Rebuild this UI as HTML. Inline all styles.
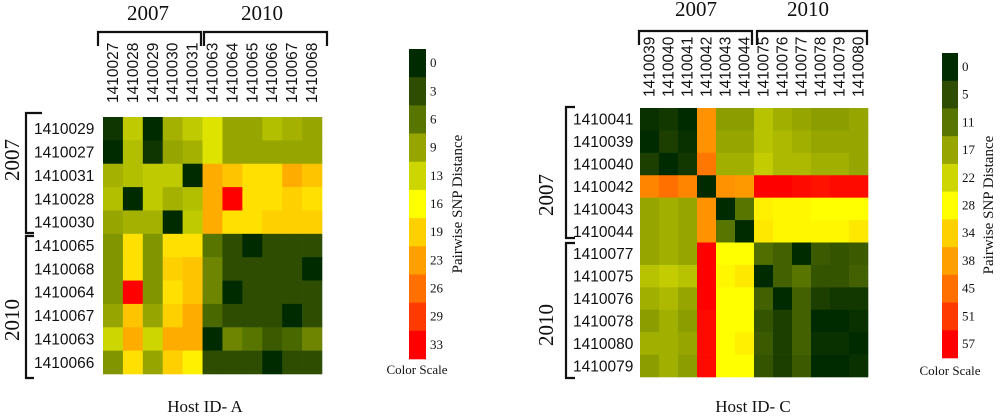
<!DOCTYPE html>
<html><head><meta charset="utf-8"><style>
body{margin:0;background:#fff}
svg{display:block}
.lab{font-family:"Liberation Sans",sans-serif;font-size:15.5px;fill:#111}
.yr{font-family:"Liberation Serif",serif;font-size:21px;fill:#111}
.tk{font-family:"Liberation Serif",serif;font-size:13px;fill:#111}
.cap{font-family:"Liberation Serif",serif;font-size:17px;fill:#111}
.br{fill:none;stroke:#111;stroke-width:2.2}
</style></head><body>
<svg id="s" width="1000" height="417" viewBox="0 0 1000 417"></svg>
<script>
const rowsA=["1410029","1410027","1410031","1410028","1410030","1410065","1410068","1410064","1410067","1410063","1410066"];
const colsA=["1410027","1410028","1410029","1410030","1410031","1410063","1410064","1410065","1410066","1410067","1410068"];
const valsA=[
[1,12,0,10,12,14,9,9,11,10,9],
[0,11,1,9,10,14,9,9,9,9,9],
[10,11,12,12,0,22,20,18,18,22,20],
[11,0,12,10,11,22,33,18,18,19,18],
[9,10,10,0,12,22,18,18,19,19,19],
[8,18,8,18,18,6,3,0,3,3,3],
[8,18,8,19,20,7,3,3,3,3,0],
[8,33,8,18,20,7,0,3,3,3,3],
[9,20,9,19,22,5,3,3,3,0,3],
[13,22,13,22,22,0,7,6,4,5,7],
[8,18,9,19,17,3,3,3,0,3,3]];
const ticksA=[0,3,6,9,13,16,19,23,26,29,33];
const rowsC=["1410041","1410039","1410040","1410042","1410043","1410044","1410077","1410075","1410076","1410078","1410080","1410079"];
const colsC=["1410039","1410040","1410041","1410042","1410043","1410044","1410075","1410076","1410077","1410078","1410079","1410080"];
const valsC=[
[1,2,0,40,16,16,20,18,17,16,16,17],
[0,3,1,40,17,17,20,19,18,17,17,17],
[3,0,2,44,18,18,21,19,19,18,18,17],
[42,45,42,0,40,39,57,57,56,55,56,56],
[17,18,17,40,0,11,30,29,29,28,28,28],
[17,18,17,40,11,0,31,29,29,29,29,31],
[17,18,17,57,28,28,10,8,0,7,6,7],
[20,21,20,57,29,31,0,8,11,6,6,8],
[18,19,17,57,28,28,8,0,8,3,2,2],
[16,18,16,56,28,28,6,3,8,0,0,1],
[18,18,17,56,28,30,7,3,8,1,1,0],
[16,18,16,56,28,28,6,3,7,0,0,1]];
const ticksC=[0,5,11,17,22,28,34,38,45,51,57];
const palette=["#002a00","#2e4d00","#587500","#96a500","#cdd600","#ffff00","#ffd000","#ffa000","#ff7000","#ff3a00","#ff0000"];

const S=document.getElementById('s'),NS="http://www.w3.org/2000/svg";
function mk(t,a,p){const e=document.createElementNS(NS,t);for(const k in a)e.setAttribute(k,a[k]);(p||S).appendChild(e);return e;}
function hex(h){return [1,3,5].map(i=>parseInt(h.substr(i,2),16));}
function colorOf(v,ticks){
  for(let i=0;i<ticks.length-1;i++){
    if(v<=ticks[i+1]){const t=(v-ticks[i])/(ticks[i+1]-ticks[i]);const a=hex(palette[i]),b=hex(palette[i+1]);
      return "rgb("+a.map((x,j)=>Math.round(x+(b[j]-x)*t)).join(",")+")";}
  }
  return palette[palette.length-1];
}
function panel(o){
  const cw=(o.x1-o.x0)/o.cols.length, rh=(o.y1-o.y0)/o.rows.length;
  o.vals.forEach((row,i)=>row.forEach((v,j)=>{
    const r=mk('rect',{x:o.x0+j*cw,y:o.y0+i*rh,width:cw+0.3,height:rh+0.3,fill:colorOf(v,o.ticks)});
    
    
  }));
  o.cols.forEach((c,j)=>{
    const x=o.x0+(j+0.5)*cw+5;
    const t=mk('text',{class:'lab',x:x,y:o.labBottom,transform:'rotate(-90 '+x+' '+o.labBottom+')'});t.textContent=c;
    
    
  });
  o.rows.forEach((c,i)=>{
    const t=mk('text',{class:'lab',x:o.rowX,y:o.y0+(i+0.5)*rh+5.5});t.textContent=c;
    
    
  });
  // scale bar
  const bh=(o.sb.y1-o.sb.y0)/palette.length;
  palette.forEach((p,k)=>{
    const r=mk('rect',{x:o.sb.x,y:o.sb.y0+k*bh,width:o.sb.w,height:bh+0.3,fill:p});
    
    
    const t=mk('text',{class:'tk',x:o.sb.x+o.sb.w+4,y:o.sb.y0+k*bh+bh/2+4});t.textContent=o.ticks[k];
    
    
  });
}
panel({rows:rowsA,cols:colsA,vals:valsA,ticks:ticksA,x0:103,x1:322,y0:117,y1:374,labBottom:103,rowX:34,
  sb:{x:409,w:17,y0:49,y1:359}});
panel({rows:rowsC,cols:colsC,vals:valsC,ticks:ticksC,x0:640,x1:868,y0:108,y1:377,labBottom:97,rowX:573,
  sb:{x:942,w:16,y0:53,y1:358}});
</script>
<svg width="0" height="0"></svg>
<script>
// static decorations
const D=document.getElementById('s');
D.insertAdjacentHTML('beforeend',`
<g>
<path class="br" d="M98 46 V32 H201 V46"/><path class="br" d="M204 46 V32 H327 V46"/>
<path class="br" d="M42 113 H26 V233 H34"/><path class="br" d="M34 236 H26 V378 H34"/>
<path class="br" d="M639 45 V31 H752 V45"/><path class="br" d="M757 45 V31 H867 V45"/>
<path class="br" d="M575 107 H566 V238 H575"/><path class="br" d="M575 243 H566 V378 H575"/>
</g>
<text class="yr" x="148" y="20" text-anchor="middle">2007</text>
<text class="yr" x="262" y="20" text-anchor="middle">2010</text>
<text class="yr" x="19" y="160" text-anchor="middle" transform="rotate(-90 19 160)">2007</text>
<text class="yr" x="19" y="320" text-anchor="middle" transform="rotate(-90 19 320)">2010</text>
<text class="yr" x="696" y="16" text-anchor="middle">2007</text>
<text class="yr" x="808" y="16" text-anchor="middle">2010</text>
<text class="yr" x="553" y="195" text-anchor="middle" transform="rotate(-90 553 195)">2007</text>
<text class="yr" x="553" y="325" text-anchor="middle" transform="rotate(-90 553 325)">2010</text>
<text class="tk" x="417" y="374" text-anchor="middle">Color Scale</text>
<text class="tk" x="950" y="375" text-anchor="middle">Color Scale</text>
<text class="cap" x="462" y="204" text-anchor="middle" transform="rotate(-90 462 204)" style="font-size:15px">Pairwise SNP Distance</text>
<text class="cap" x="993" y="205" text-anchor="middle" transform="rotate(-90 993 205)" style="font-size:15px">Pairwise SNP Distance</text>
<text class="cap" x="205" y="412" text-anchor="middle">Host ID- A</text>
<text class="cap" x="753" y="412" text-anchor="middle">Host ID- C</text>
`);
</script>
</body></html>
